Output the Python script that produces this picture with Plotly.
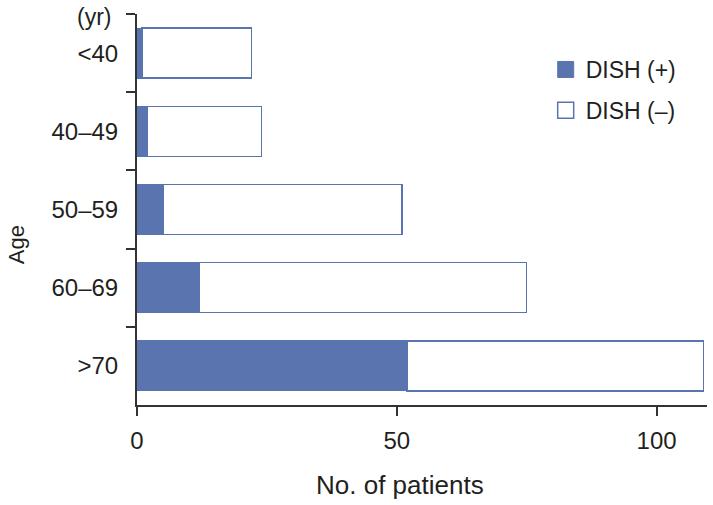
import plotly.graph_objects as go

age_groups = ["<40", "40–49", "50–59", "60–69", ">70"]
dish_pos = [1, 2, 5, 12, 52]
dish_neg = [21, 22, 46, 63, 57]

BLUE = "#5A74B0"
TXT = "#231F20"
FONT = "Liberation Sans, Arial, sans-serif"

fig = go.Figure()
fig.add_trace(go.Bar(
    y=age_groups, x=dish_pos, orientation="h", name="DISH (+)",
    marker=dict(color=BLUE, line=dict(color=BLUE, width=1)),
    width=0.64, showlegend=False,
))
fig.add_trace(go.Bar(
    y=age_groups, x=dish_neg, orientation="h", name="DISH (\u2013)",
    marker=dict(color="white", line=dict(color=BLUE, width=1.5)),
    width=0.64, showlegend=False,
))
# legend entries with larger square symbols
fig.add_trace(go.Scatter(
    x=[None], y=[None], mode="markers", name="DISH (+)", legendgroup="a",
    marker=dict(symbol="square", size=16, color=BLUE, line=dict(color=BLUE, width=1)),
))
fig.add_trace(go.Scatter(
    x=[None], y=[None], mode="markers", name="DISH (\u2013)", legendgroup="b",
    marker=dict(symbol="square", size=16, color="white", line=dict(color=BLUE, width=1.5)),
))

fig.update_layout(
    width=713, height=505,
    margin=dict(l=137, r=6, t=14, b=100, autoexpand=False),
    barmode="stack",
    plot_bgcolor="white", paper_bgcolor="white",
    font=dict(family=FONT, size=23, color=TXT),
    showlegend=True,
    legend=dict(x=0.717, y=0.913, xanchor="left", yanchor="top",
                font=dict(size=23, color=TXT), tracegroupgap=8,
                itemsizing="trace", bgcolor="rgba(0,0,0,0)"),
    xaxis=dict(range=[0, 109.7], tickvals=[0, 50, 100], showgrid=False,
               zeroline=False, showline=True, linecolor="#333333", linewidth=2,
               ticks="outside", ticklen=9, tickwidth=2, tickcolor="#333333",
               tickfont=dict(size=24, color=TXT), ticklabelstandoff=4,
               automargin=False),
    yaxis=dict(categoryorder="array", categoryarray=age_groups,
               autorange="reversed", showgrid=False, zeroline=False,
               showline=True, linecolor="#333333", linewidth=2,
               ticks="outside", tickson="boundaries", ticklen=9, tickwidth=2,
               tickcolor="#333333", tickfont=dict(size=24, color=TXT),
               ticklabelstandoff=12, automargin=False),
    annotations=[
        dict(text="(yr)", xref="paper", yref="paper", x=-0.042, y=0.992,
             xanchor="right", yanchor="middle", showarrow=False,
             font=dict(size=23, color=TXT)),
        dict(text="Age", xref="paper", yref="paper", x=-0.212, y=0.409,
             xanchor="center", yanchor="middle", textangle=-90, showarrow=False,
             font=dict(size=22, color=TXT)),
        dict(text="No. of patients", xref="paper", yref="paper", x=0.461, y=-0.205,
             xanchor="center", yanchor="middle", showarrow=False,
             font=dict(size=26, color=TXT)),
    ],
)

fig.write_html("out.html", config={"displayModeBar": False},
               post_script="document.body.style.margin='0px';")
